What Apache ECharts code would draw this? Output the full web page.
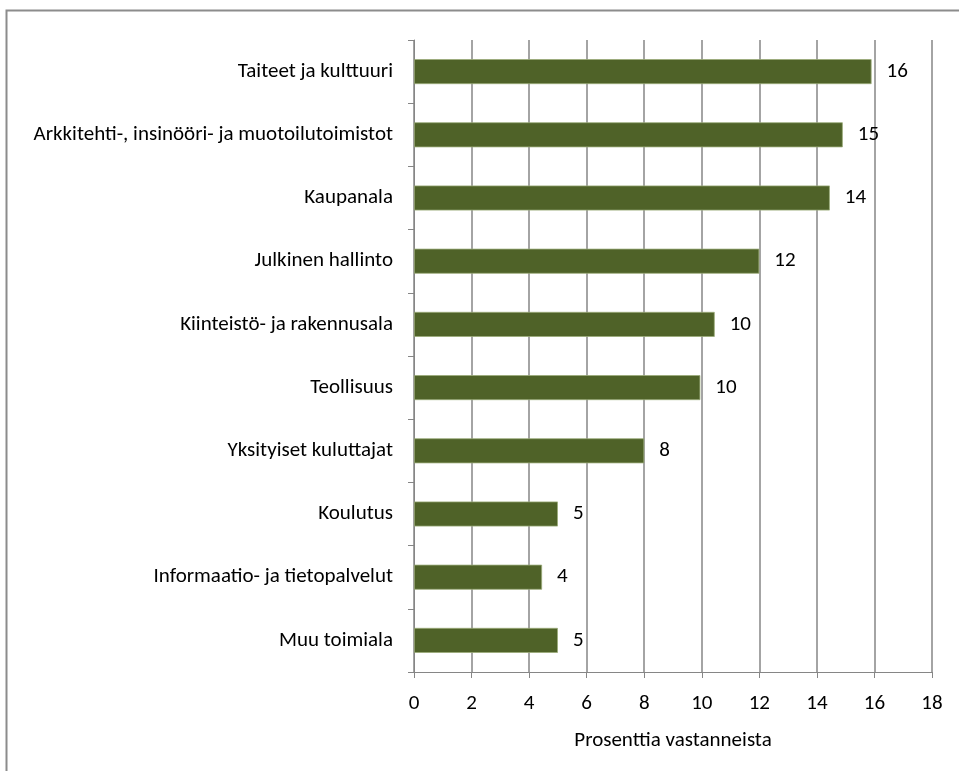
<!DOCTYPE html>
<html>
<head>
<meta charset="utf-8">
<script src="https://cdn.jsdelivr.net/npm/echarts@6/dist/echarts.min.js"></script>
<style>
html,body{margin:0;padding:0;background:#fff;}
#c{width:959px;height:771px;}
</style>
</head>
<body>
<div id="c"></div>
<script>
const categories = [
  'Taiteet ja kulttuuri',
  'Arkkitehti-, insinööri- ja muotoilutoimistot',
  'Kaupanala',
  'Julkinen hallinto',
  'Kiinteistö- ja rakennusala',
  'Teollisuus',
  'Yksityiset kuluttajat',
  'Koulutus',
  'Informaatio- ja tietopalvelut',
  'Muu toimiala'
];
const values = [15.9, 14.9, 14.45, 12.0, 10.45, 9.95, 8.0, 5.0, 4.45, 5.0];
const xTicks = [0, 2, 4, 6, 8, 10, 12, 14, 16, 18];
const xAxisName = 'Prosenttia vastanneista';

const font = 'Carlito, "Noto Sans", "Open Sans", sans-serif';
const fs = 21;
const chart = echarts.init(document.getElementById('c'), null, {renderer: 'canvas'});
chart.setOption({
  animation: false,
  backgroundColor: '#fff',
  graphic: [{
    type: 'rect',
    shape: {x: 6.5, y: 10.5, width: 1000, height: 1000},
    style: {fill: 'none', stroke: '#8c8c8c', lineWidth: 2},
    silent: true
  }],
  grid: {left: 414, top: 40, right: 27, bottom: 99, containLabel: false},
  xAxis: {
    type: 'value',
    min: xTicks[0],
    max: xTicks[xTicks.length - 1],
    interval: xTicks[1] - xTicks[0],
    name: xAxisName,
    nameLocation: 'middle',
    nameGap: 58,
    nameTextStyle: {fontSize: fs, color: '#000', fontFamily: font},
    axisLine: {show: true, lineStyle: {color: '#868686', width: 1}},
    axisTick: {show: true, length: 6, lineStyle: {color: '#868686'}},
    axisLabel: {fontSize: fs, color: '#000', margin: 21, fontFamily: font},
    splitLine: {show: true, lineStyle: {color: '#868686', width: 1.5}}
  },
  yAxis: {
    type: 'category',
    data: categories,
    inverse: true,
    axisLine: {show: true, lineStyle: {color: '#868686', width: 1}},
    axisTick: {show: true, length: 6, lineStyle: {color: '#868686'}},
    axisLabel: {fontSize: fs, color: '#000', margin: 21, fontFamily: font},
    splitLine: {show: false}
  },
  series: [{
    type: 'bar',
    data: values,
    barWidth: 25,
    itemStyle: {color: '#4F6228', borderColor: '#9aab78', borderWidth: 0.8},
    label: {
      show: true,
      position: 'right',
      distance: 15,
      fontSize: fs,
      color: '#000',
      fontFamily: font,
      formatter: p => Math.round(p.value)
    }
  }]
});
</script>
</body>
</html>
